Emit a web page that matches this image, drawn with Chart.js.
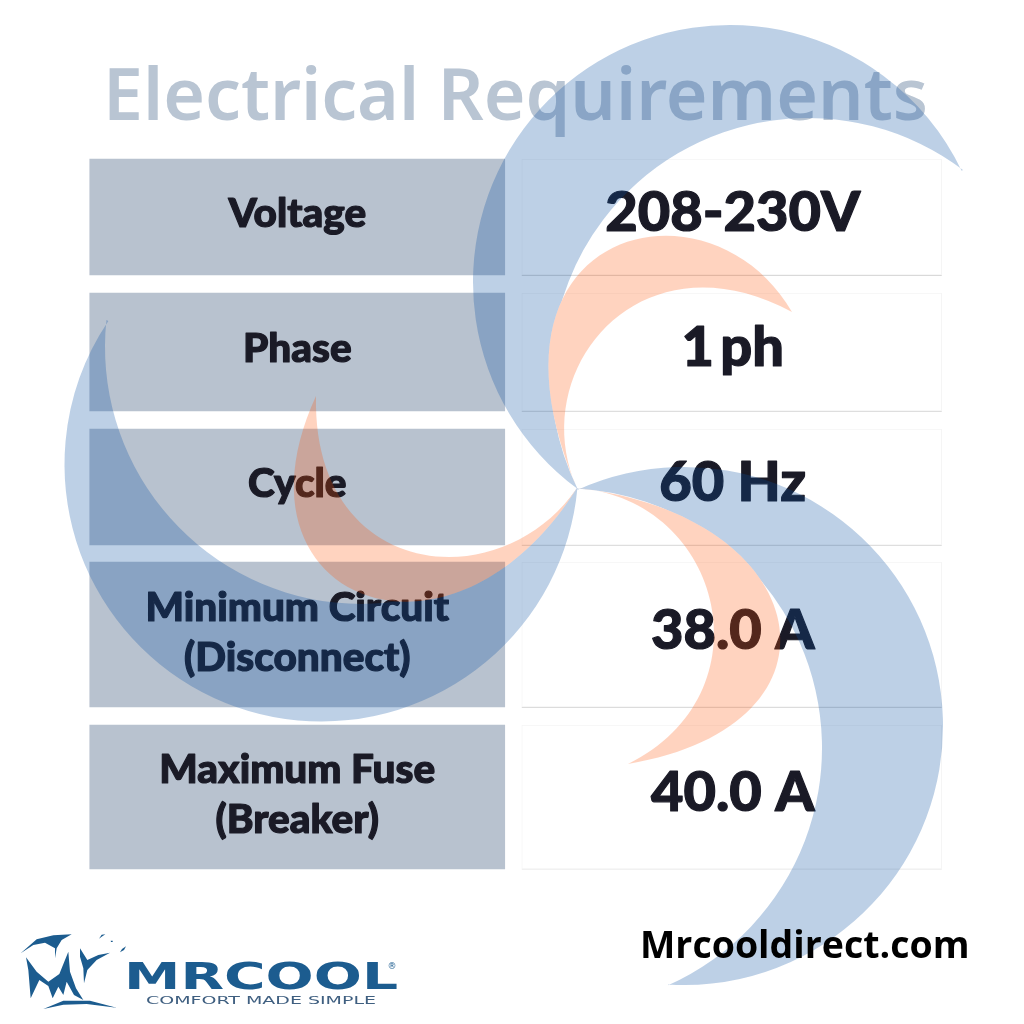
<!DOCTYPE html>
<html>
<head>
<meta charset="utf-8">
<title>Electrical Requirements</title>
<script src="https://cdn.jsdelivr.net/npm/chart.js@4/dist/chart.umd.min.js"></script>
<style>
  html, body { margin: 0; padding: 0; background: #fff; }
  canvas { display: block; }
</style>
</head>
<body>
<canvas id="chart" width="1024" height="1024"></canvas>
<script>
// table content
const titleText = 'Electrical Requirements';
const columns = ['Parameter', 'Value'];
const rowLabels = [['Voltage'], ['Phase'], ['Cycle'], ['Minimum Circuit', '(Disconnect)'], ['Maximum Fuse', '(Breaker)']];
const rowValues = ['208-230V', '1 ph', '60 Hz', '38.0 A', '40.0 A'];
const siteText = 'Mrcooldirect.com';
const logoText = 'MRCOOL';
const logoTagline = 'COMFORT MADE SIMPLE';

// row bands in page pixels, the y axis runs 0..1024 top-down
const rowTops    = [159, 293, 429, 562, 725];
const rowBottoms = [275, 411, 545, 707, 869];
const rowRuleColors = ['#d9d9d9', '#dedede', '#dedede', '#dcdcdc', '#f1f1f1'];

const TEXT_DARK = '#1a1a26';
const CELL_GREY = '#b8c2cf';
const BLUE_TINT = 'rgba(11,81,163,0.27)';
const ORANGE_TINT = 'rgba(255,80,0,0.25)';
const LOGO_BLUE = '#1c5c8f';

// swirl behind the table: blue = outer circle minus inner circle, [cx, cy, r]
const blueCrescents = [
    { a: [577, 488], b: [963, 170], outer: [730, 282, 257], inner: [808, 375, 257] },
    { a: [577, 488], b: [107, 320], outer: [321.5, 464.5, 257], inner: [362, 347, 257] },
    { a: [577, 488], b: [668, 985], outer: [684, 726, 259], inner: [562, 748, 260] },
];
// orange crescents: tip, then two cubic edges [c1, c2, end]
const orangeCrescents = [
    { start: [792, 312], edges: [[[710,170],[466,225],[577,488]], [[525,370],[640,230],[792,312]]] },
    { start: [316, 396], edges: [[[222,600],[450,690],[577,488]], [[500,600],[312,580],[316,396]]] },
    { start: [577, 488], edges: [[[815,515],[860,725],[628,764]], [[770,695],[725,500],[577,488]]] },
];

// logo mark, traced at 3x from the top-left of the logo block
const logoShapes = [
    [[62,160],[110,118],[160,106],[215,103],[185,120],[170,145],[165,175],[165,145],[135,128],[100,135]],
    [[78,172],[110,215],[145,245],[178,222],[205,155],[210,215],[228,265],[250,300],[222,285],[200,245],[190,285],[175,260],[158,295],[145,258],[118,240],[92,295],[85,210]],
    [[240,145],[262,180],[295,165],[330,158],[290,180],[262,210],[252,250],[250,205],[240,170]],
    [[130,327],[190,302],[270,302],[350,323],[260,312],[190,314]],
    [[297,116],[305,104],[316,103],[305,110]],
    [[332,122],[338,122],[338,126],[333,126]],
    [[360,157],[366,147],[378,139],[372,150]],
];

function bluePath(c) {
    const p = new Path2D();
    const ang = (circle, pt) => Math.atan2(pt[1] - circle[1], pt[0] - circle[0]);
    p.arc(c.outer[0], c.outer[1], c.outer[2], ang(c.outer, c.a), ang(c.outer, c.b), false);
    p.arc(c.inner[0], c.inner[1], c.inner[2], ang(c.inner, c.b), ang(c.inner, c.a), true);
    p.closePath();
    return p;
}

function orangePath(c) {
    const p = new Path2D();
    p.moveTo(c.start[0], c.start[1]);
    c.edges.forEach(e => p.bezierCurveTo(e[0][0], e[0][1], e[1][0], e[1][1], e[2][0], e[2][1]));
    p.closePath();
    return p;
}

function fitText(ctx, text, x0, x1, baseline, font, color) {
    // squeeze or stretch a string to the given horizontal extent
    ctx.save();
    ctx.font = font;
    ctx.fillStyle = color;
    ctx.textAlign = 'left';
    ctx.textBaseline = 'alphabetic';
    const w = ctx.measureText(text).width;
    ctx.translate(x0, baseline);
    ctx.scale((x1 - x0) / w, 1);
    ctx.fillText(text, 0, 0);
    ctx.restore();
}

function heavyText(ctx, text, x, y, weight) {
    // no font here is as heavy as the original, thicken it with a stroke
    ctx.lineWidth = weight;
    ctx.lineJoin = 'round';
    ctx.strokeText(text, x, y);
    ctx.fillText(text, x, y);
}

// text sits on top of the bars, the swirl tints both of them
const tablePage = {
    id: 'tablePage',
    afterDatasetsDraw(chart) {
        const ctx = chart.ctx;
        ctx.save();

        // thin rules of the value column
        rowLabels.forEach((_, i) => {
            const bar = chart.getDatasetMeta(i * 2 + 1).data[1];
            ctx.strokeStyle = rowRuleColors[i];
            ctx.lineWidth = 1;
            ctx.beginPath();
            ctx.moveTo(bar.x - bar.width / 2, rowBottoms[i] + 0.5);
            ctx.lineTo(bar.x + bar.width / 2, rowBottoms[i] + 0.5);
            ctx.stroke();
        });

        ctx.textAlign = 'center';
        ctx.textBaseline = 'alphabetic';

        ctx.fillStyle = '#b9c5d3';
        ctx.font = '600 71.5px "Noto Sans"';
        ctx.fillText(titleText, 515.5, 120);

        ctx.fillStyle = TEXT_DARK;
        ctx.strokeStyle = TEXT_DARK;
        rowLabels.forEach((lines, i) => {
            const left = chart.getDatasetMeta(i * 2).data[0];
            const right = chart.getDatasetMeta(i * 2 + 1).data[1];
            const mid = (rowTops[i] + rowBottoms[i]) / 2;
            ctx.font = '900 40.5px Lato';
            ctx.wordSpacing = '0px';
            lines.forEach((line, k) => {
                const off = lines.length > 1 ? (k === 0 ? -14 : 36) : 10;
                heavyText(ctx, line, left.x, mid + off, 1.2);
            });
            ctx.font = '900 56px Lato';
            ctx.wordSpacing = i === 1 ? '-7px' : '0px';
            heavyText(ctx, rowValues[i], right.x + 1, mid + 14, 1.2);
        });
        ctx.wordSpacing = '0px';

        // swirl: blue stops where the orange starts
        const oranges = orangeCrescents.map(orangePath);
        ctx.save();
        const outside = new Path2D();
        outside.rect(0, 0, 1024, 1024);
        oranges.forEach(o => outside.addPath(o));
        ctx.clip(outside, 'evenodd');
        ctx.fillStyle = BLUE_TINT;
        blueCrescents.forEach(c => ctx.fill(bluePath(c)));
        ctx.restore();
        ctx.fillStyle = ORANGE_TINT;
        oranges.forEach(o => ctx.fill(o));

        // footer
        ctx.fillStyle = '#000';
        ctx.font = '700 37.5px "Open Sans"';
        ctx.textAlign = 'left';
        ctx.fillText(siteText, 640, 958);

        ctx.fillStyle = LOGO_BLUE;
        logoShapes.forEach(shape => {
            const p = new Path2D();
            shape.forEach((pt, n) => {
                const x = pt[0] / 3, y = 900 + pt[1] / 3;
                if (n === 0) p.moveTo(x, y); else p.lineTo(x, y);
            });
            p.closePath();
            ctx.fill(p);
        });
        fitText(ctx, logoText, 124, 398, 989, '700 37px "DejaVu Sans"', LOGO_BLUE);
        fitText(ctx, logoTagline, 146, 376, 1004, '400 10px "DejaVu Sans"', '#3f5f80');
        ctx.fillStyle = LOGO_BLUE;
        ctx.font = '400 9px "DejaVu Sans"';
        ctx.textAlign = 'center';
        ctx.fillText('®', 392, 969);

        ctx.restore();
    }
};

// each row is two floating bars, one per column
const datasets = rowLabels.flatMap((_, i) => {
    const span = [rowTops[i], rowBottoms[i]];
    return [
        { label: 'Row ' + (i + 1) + ' name', data: [span, null], backgroundColor: CELL_GREY, barThickness: 415 },
        { label: 'Row ' + (i + 1) + ' value', data: [null, span], backgroundColor: '#fff',
          borderColor: '#f5f5f5', borderWidth: 1, borderSkipped: false, barThickness: 420 },
    ];
});

new Chart(document.getElementById('chart'), {
    type: 'bar',
    data: { labels: columns, datasets },
    plugins: [tablePage],
    options: {
        responsive: false,
        animation: false,
        layout: { padding: { left: 80, right: 75, top: 0, bottom: 0 } },
        plugins: { legend: { display: false }, tooltip: { enabled: false } },
        scales: {
            x: { display: false, stacked: false },
            y: { display: false, min: 0, max: 1024, reverse: true },
        },
        datasets: { bar: { grouped: false } },
    },
});
</script>
</body>
</html>
